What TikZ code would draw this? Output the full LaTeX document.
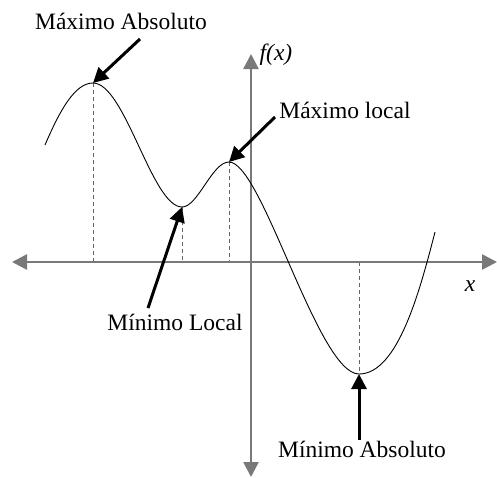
\documentclass[tikz,border=0pt]{standalone}
\usepackage{fontspec}
\setmainfont{Liberation Serif}
\usetikzlibrary{arrows.meta}
\begin{document}
\begin{tikzpicture}[x=1pt,y=-1pt,
  axis/.style={draw=gray!95!black, line width=2.6pt, -{Triangle[length=15pt,width=15pt]}},
  guide/.style={draw=gray!80!black, line width=1pt, dash pattern=on 4pt off 3pt},
  pointer/.style={draw=black, line width=3pt, -{Triangle[length=15pt,width=15pt]}},
  curve/.style={draw=black, line width=0.9pt},
  lbl/.style={font=\fontsize{23.5}{28}\selectfont, inner sep=0pt}]
\useasboundingbox (0,0) rectangle (497,477);
% extrema and axis ends
\coordinate (s) at (45,145);
\coordinate (maxA) at (93,83);
\coordinate (minL) at (182,207);
\coordinate (maxL) at (229,162);
\coordinate (minA) at (359,374);
\coordinate (e) at (435,232);
\coordinate (xl) at (12,262);
\coordinate (xr) at (497,262);
\coordinate (yt) at (251,54);
\coordinate (yb) at (251,477);
\coordinate (dA) at (93,262);
\coordinate (dL) at (182,262);
\coordinate (dM) at (229,262);
\coordinate (dN) at (359,262);
% guides
\draw[guide] (maxA) -- (dA);
\draw[guide] (minL) -- (dL);
\draw[guide] (maxL) -- (dM);
\draw[guide] (dN) -- (minA);
% axes
\draw[axis] (251,262) -- (xl);
\draw[axis] (251,262) -- (xr);
\draw[axis] (251,262) -- (yt);
\draw[axis] (251,262) -- (yb);
% curve
\draw[curve] (s) .. controls (60,110) and (75,83) .. (maxA)
  .. controls (125,83) and (152,207) .. (minL)
  .. controls (198,207) and (212,162) .. (maxL)
  .. controls (262,162) and (318,374) .. (minA)
  .. controls (398,374) and (420,290) .. (e);
% labels
\node[lbl] (tMA) at (121,21) {Máximo Absoluto};
\node[lbl] (tML) at (345,110) {Máximo local};
\node[lbl] (tNL) at (175,322) {Mínimo Local};
\node[lbl] (tNA) at (362,449) {Mínimo Absoluto};
\node[lbl] (fx) at (276,55) {\itshape f(x)};
\node[lbl] (xx) at (470,286) {\itshape x};
% pointer starts
\coordinate (pMA) at (140,39);
\coordinate (pML) at (275,117);
\coordinate (pNL) at (148,308);
\coordinate (pNA) at (359,440);
\draw[pointer] (pMA) -- (maxA);
\draw[pointer] (pML) -- (maxL);
\draw[pointer] (pNL) -- (minL);
\draw[pointer] (pNA) -- (minA);
\end{tikzpicture}
\end{document}
